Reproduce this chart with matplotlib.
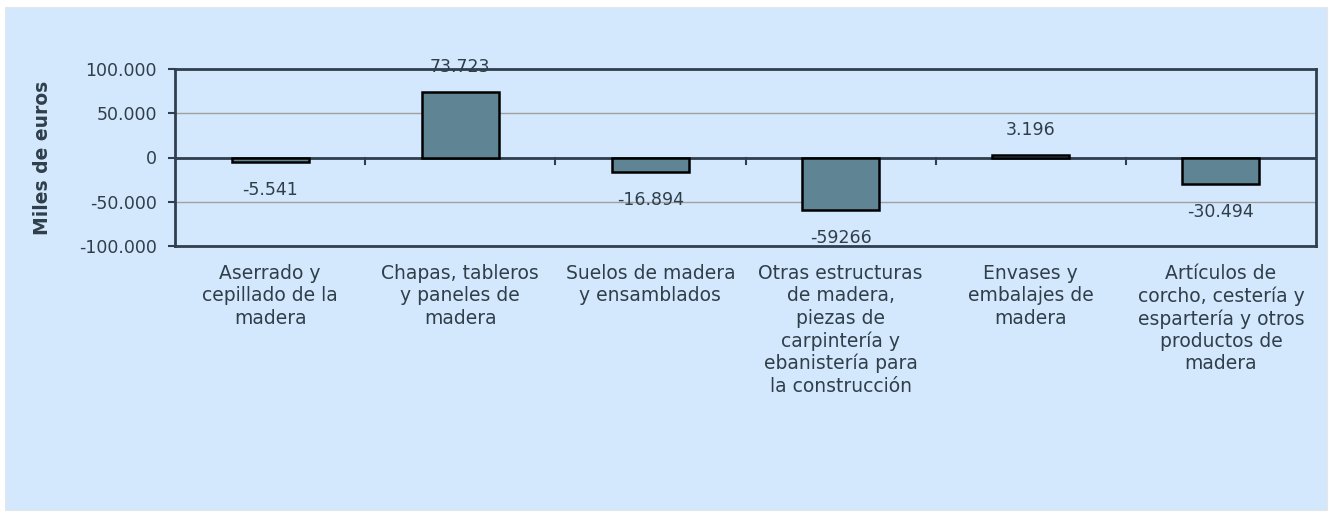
import matplotlib.pyplot as plt
from matplotlib.patches import Rectangle
from matplotlib import transforms

categorias = [
    "Aserrado y\ncepillado de la\nmadera",
    "Chapas, tableros\ny paneles de\nmadera",
    "Suelos de madera\ny ensamblados",
    "Otras estructuras\nde madera,\npiezas de\ncarpintería y\nebanistería para\nla construcción",
    "Envases y\nembalajes de\nmadera",
    "Artículos de\ncorcho, cestería y\nespartería y otros\nproductos de\nmadera",
]
valores = [-5541, 73723, -16894, -59266, 3196, -30494]
etiquetas = ["-5.541", "73.723", "-16.894", "-59266", "3.196", "-30.494"]
y_ticks = [-100000, -50000, 0, 50000, 100000]
y_tick_labels = ["-100.000", "-50.000", "0", "50.000", "100.000"]

fondo = "#D3E7FD"
texto = "#2F3F4A"
plt.rcParams['font.family'] = ['DejaVu Sans']

fig = plt.figure(figsize=(13.29, 5.13), dpi=100)
fig.patch.set_facecolor("white")
fig.patches.append(Rectangle((5 / 1329, 3 / 513), 1322 / 1329, 503 / 513,
                             transform=fig.transFigure, facecolor=fondo,
                             edgecolor="#E6E6E6", lw=0.8, zorder=-10))

ax = fig.add_axes([175 / 1329, 1 - 246 / 513, 1141 / 1329, 177 / 513])
ax.set_facecolor(fondo)

x = range(len(valores))
ax.bar(x, valores, width=0.405, color="#5F8494", edgecolor="black", linewidth=1.8, zorder=3)

# etiquetas de valor
for i, (v, lab) in enumerate(zip(valores, etiquetas)):
    off = 18 if v >= 0 else -20
    ax.annotate(lab, (i, v), xytext=(0, off), textcoords="offset points",
                ha="center", va="center", fontsize=12.5, color=texto, zorder=4)

ax.set_xlim(-0.5, len(valores) - 0.5)
ax.set_ylim(-100000, 100000)
ax.set_yticks(y_ticks)
ax.set_yticklabels(y_tick_labels, fontsize=12.5, color=texto)
ax.tick_params(axis="y", length=5, width=1.5, color="#2F3F4F", pad=8)
ax.set_xticks([])
ax.grid(axis="y", color="#A0A0A0", linewidth=1, zorder=1)

for s in ax.spines.values():
    s.set_color("#2F3F4F")
    s.set_linewidth(2)

# eje del cero con marcas entre categorias
ax.axhline(0, color="#2F3F4F", linewidth=2, zorder=2)
for b in range(1, len(valores)):
    ax.plot([b - 0.5, b - 0.5], [0, -7000], color="#2F3F4F", lw=1.5, zorder=2, clip_on=False)

# categorias bajo el eje
desplaza = ax.transData + transforms.ScaledTranslation(0, -13 / 72, fig.dpi_scale_trans)
for i, cat in enumerate(categorias):
    ax.text(i, -100000, cat, transform=desplaza, ha="center", va="top",
            fontsize=13.5, color=texto, linespacing=1.22)

ax.set_ylabel("Miles de euros", fontsize=13.5, fontweight="bold", color=texto)
ax.yaxis.set_label_coords(-0.108, 0.5)

fig.savefig("out.png", dpi=100, facecolor=fig.get_facecolor())
